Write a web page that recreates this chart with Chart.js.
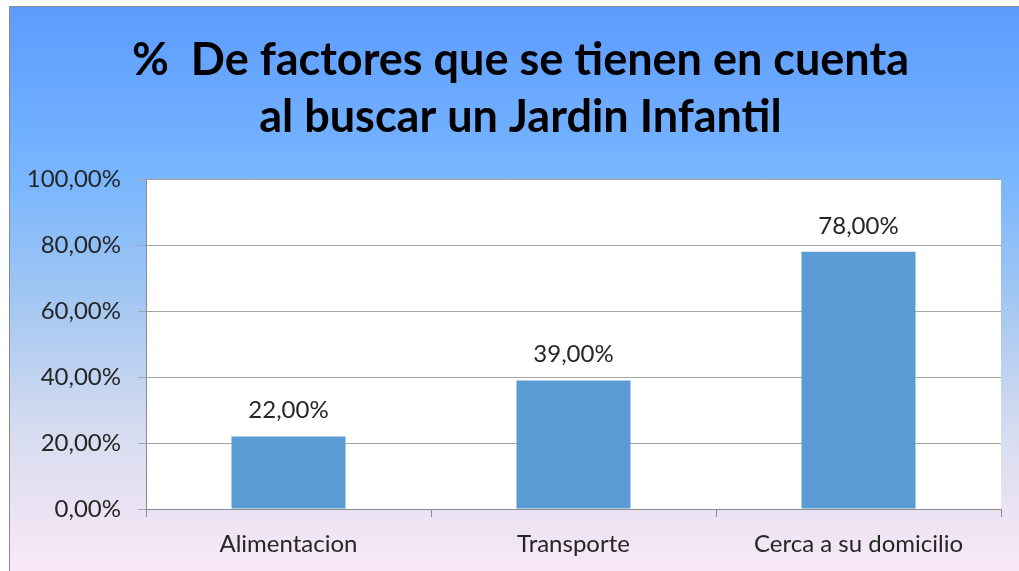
<!DOCTYPE html>
<html>
<head>
<meta charset="utf-8">
<script src="https://cdn.jsdelivr.net/npm/chart.js"></script>
<style>
  html, body { margin: 0; padding: 0; background: #fff; }
  #wrap {
    position: absolute; left: 9px; top: 6px; width: 1010px; height: 565px;
    border-left: 1px solid #8a8a8a; border-top: 1px solid #8a8a8a;
    box-sizing: border-box;
    background: linear-gradient(to bottom, #5c9cfe 0%, #78b6ff 30%, #a9c9f0 55%, #d6dcf0 75%, #f9e8f6 100%);
  }
</style>
</head>
<body>
<div id="wrap"><canvas id="chart"></canvas></div>
<script>
// values
const categories = ['Alimentacion', 'Transporte', 'Cerca a su domicilio'];
const percents = [22, 39, 78];
const yTicks = [0, 20, 40, 60, 80, 100];
const titleLines = ['%  De factores que se tienen en cuenta', 'al buscar un Jardin Infantil'];

const FONT = 'Lato, "DejaVu Sans", sans-serif';
const fmt = v => v.toFixed(2).replace('.', ',') + '%';

// white plot area + nudge the title a bit right, like the original
const plotBg = {
  id: 'plotBg',
  afterLayout(chart){
    if (chart.titleBlock) chart.titleBlock.left += 30;
  },
  beforeDraw(chart){
    const { ctx, chartArea: a } = chart;
    ctx.save(); ctx.fillStyle = '#ffffff';
    ctx.fillRect(a.left, a.top, a.right - a.left, a.bottom - a.top);
    ctx.restore();
  }
};

// value labels above bars
const barLabels = {
  id: 'barLabels',
  afterDatasetsDraw(chart){
    const { ctx } = chart;
    const meta = chart.getDatasetMeta(0);
    ctx.save();
    ctx.font = '24px ' + FONT;
    ctx.fillStyle = '#262626';
    ctx.textAlign = 'center';
    ctx.textBaseline = 'bottom';
    meta.data.forEach((bar, i)=>{
      ctx.fillText(fmt(percents[i]), bar.x, bar.y - 14);
    });
    ctx.restore();
  }
};

const el = document.getElementById('chart');
new Chart(el.getContext('2d'), {
  type: 'bar',
  data: {
    labels: categories,
    datasets: [{
      data: percents,
      backgroundColor: '#5b9bd5',
      borderWidth: 0,
      barPercentage: 0.4,
      categoryPercentage: 1.0
    }]
  },
  options: {
    responsive: true,
    maintainAspectRatio: false,
    animation: false,
    layout: { padding: { top: 0, right: 18, bottom: 0, left: 0 } },
    plugins: {
      legend: { display: false },
      tooltip: { enabled: false },
      title: {
        display: true,
        text: titleLines,
        color: '#000',
        font: { family: FONT, size: 45, weight: 'bold', lineHeight: 1.27 },
        padding: { top: 25, bottom: 33 }
      }
    },
    scales: {
      x: {
        grid: { offset: true, drawOnChartArea: false, color: '#8c8c8c', tickLength: 8 },
        border: { color: '#8c8c8c' },
        ticks: { color: '#262626', font: { family: FONT, size: 24 }, padding: 13 },
        afterFit(s){ s.height = 62; }
      },
      y: {
        min: 0, max: 100,
        afterBuildTicks(s){ s.ticks = yTicks.map(v => ({ value: v })); },
        grid: { color: '#a6a6a6', tickLength: 8 },
        border: { color: '#8c8c8c' },
        ticks: { color: '#262626', font: { family: FONT, size: 24 }, padding: 17, callback: v => fmt(v) },
        afterFit(s){ s.width = 136; }
      }
    }
  },
  plugins: [plotBg, barLabels]
});
</script>
</body>
</html>
